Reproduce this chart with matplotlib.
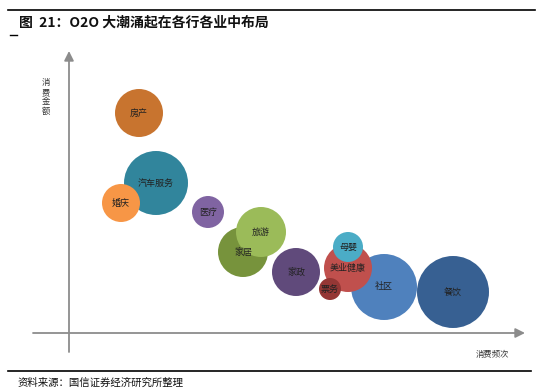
import matplotlib
matplotlib.use("Agg")
import matplotlib.pyplot as plt
from matplotlib.patches import Circle

plt.rcParams['font.family'] = ['Noto Sans CJK SC', 'DejaVu Sans']

# industries: consumption frequency (x), consumption amount (y), bubble size (radius)
industries = ['房产', '汽车服务', '婚庆', '医疗', '家居', '旅游', '家政',
              '社区', '餐饮', '美业健康', '票务', '母婴']
frequency = [70, 87, 52, 139, 174, 192, 227, 315, 384, 279, 261, 279]
amount = [220, 150, 130, 121, 81, 101, 61, 46, 41, 65, 44, 86]
size = [24, 32, 19, 16, 25, 25, 24, 33, 36, 24, 11, 15]
colors = ['#c8742f', '#31859c', '#f79646', '#8064a2', '#77933c', '#9bbb59',
          '#604a7b', '#4f81bd', '#376092', '#c0504d', '#953735', '#4bacc6']

fig = plt.figure(figsize=(5.42, 3.92), dpi=100)
ax = fig.add_axes([0, 0, 1, 1])
ax.set_xlim(-69, 473)
ax.set_ylim(-59, 333)
ax.axis('off')

# axes with arrows
axis_color = '#8c8c8c'
ax.annotate('', xy=(0, 282), xytext=(0, -19),
            arrowprops=dict(arrowstyle='-|>', color=axis_color, lw=1.3,
                            mutation_scale=14, shrinkA=0, shrinkB=0))
ax.annotate('', xy=(456, 0), xytext=(-36, 0),
            arrowprops=dict(arrowstyle='-|>', color=axis_color, lw=1.3,
                            mutation_scale=14, shrinkA=0, shrinkB=0))

for name, fx, fy, r, c in zip(industries, frequency, amount, size, colors):
    ax.add_patch(Circle((fx, fy), r, facecolor=c, edgecolor='none'))
    ax.text(fx, fy, name, ha='center', va='center', fontsize=6.5, color='#222222')

ax.text(-23, 236, '消\n费\n金\n额', ha='center', va='center', fontsize=6,
        color='#333333', linespacing=1.05)
ax.text(423, -21, '消费频次', ha='center', va='center', fontsize=6, color='#333333')

# header / footer decorations
ax.plot([-61, 466], [323, 323], color='black', lw=1.2)
ax.plot([-59, -52], [298, 298], color='black', lw=1.0)
ax.plot([-61, 462], [-38, -38], color='black', lw=1.2)
ax.text(-50, 311, '图  21：O2O 大潮涌起在各行各业中布局', ha='left', va='center',
        fontsize=10, fontweight='bold', color='#111111')
ax.text(-51, -50, '资料来源：国信证券经济研究所整理', ha='left', va='center',
        fontsize=7.5, color='#111111')

fig.savefig('out.png', dpi=100)
